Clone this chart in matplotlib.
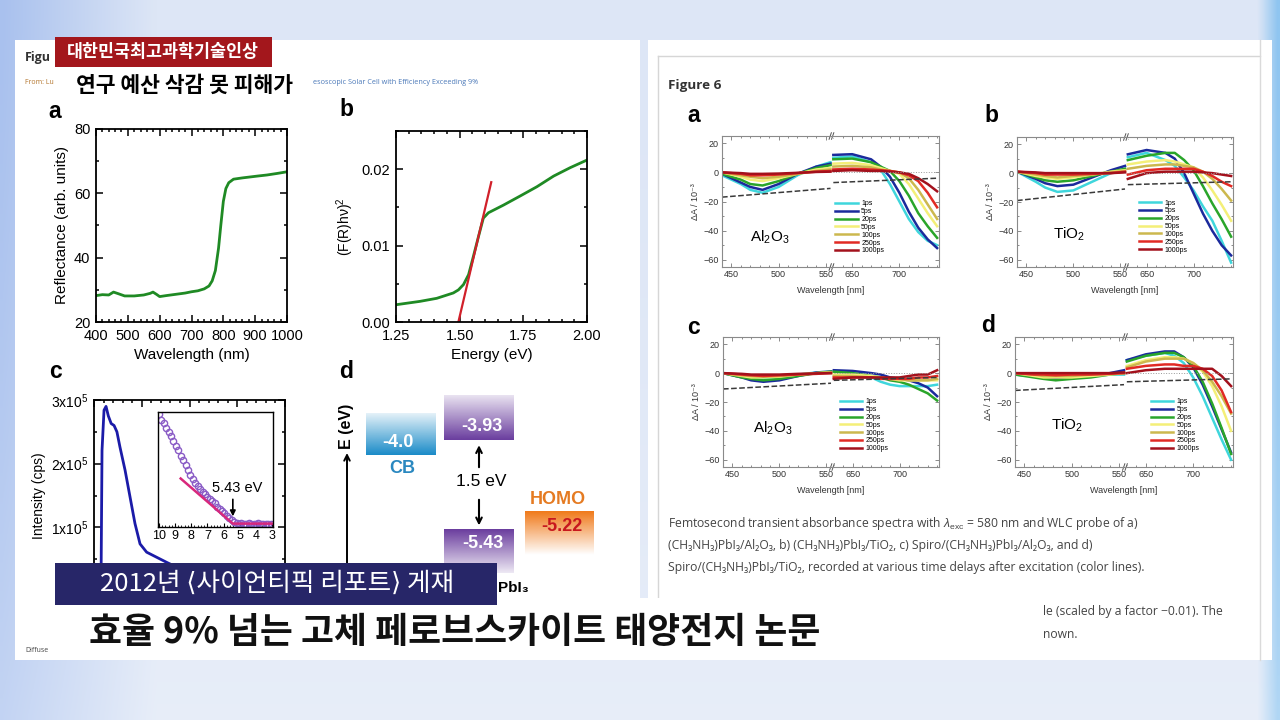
import numpy as np
import matplotlib
matplotlib.use("Agg")
import matplotlib.pyplot as plt
from matplotlib.patches import Rectangle
from matplotlib.colors import to_rgb
from matplotlib.ticker import MultipleLocator, FixedLocator, NullFormatter

plt.rcParams['font.family'] = ['Liberation Sans', 'DejaVu Sans']
plt.rcParams['mathtext.fontset'] = 'custom'
plt.rcParams['mathtext.rm'] = 'Liberation Sans'
plt.rcParams['mathtext.it'] = 'Liberation Sans:italic'
plt.rcParams['mathtext.bf'] = 'Liberation Sans:bold'

KR = ['Noto Sans CJK KR', 'DejaVu Sans']
CAP = ['Open Sans', 'DejaVu Sans']

# ---- left figure, panel a : diffuse reflectance
refl_wl = [400, 420, 440, 455, 470, 490, 520, 550, 570, 579, 590, 600, 620, 650, 680,
           700, 720, 740, 755, 765, 775, 785, 792, 800, 808, 817, 832, 860, 885, 910,
           937, 970, 1000]
refl_val = [28.2, 28.5, 28.4, 29.3, 28.8, 28.1, 28.1, 28.4, 28.9, 29.3, 28.6, 27.9, 28.2,
            28.6, 29.0, 29.4, 29.7, 30.3, 31.2, 32.8, 36.0, 43.0, 50.0, 57.5, 61.5, 63.3,
            64.4, 64.8, 65.1, 65.4, 65.7, 66.2, 66.7]

# ---- panel b : Tauc plot
tauc_e = [1.25, 1.344, 1.41, 1.475, 1.495, 1.515, 1.535, 1.554, 1.574, 1.593, 1.613,
          1.672, 1.738, 1.803, 1.869, 1.934, 2.0]
tauc_val = [0.00226, 0.0027, 0.0031, 0.0038, 0.0042, 0.0049, 0.0062, 0.0086, 0.0112,
            0.0136, 0.0143, 0.0153, 0.0165, 0.0177, 0.0191, 0.0202, 0.0212]
tauc_fit_e = [1.495, 1.624]
tauc_fit_val = [0.0, 0.0183]

# ---- panel c : UPS spectrum and inset
ups_x = [0.73, 0.84, 1.05, 1.26, 1.5, 1.8, 2.1, 2.4, 2.72, 3.25, 3.77, 4.29, 4.82,
         5.51, 6.56, 7.61, 9.0, 11.0, 14.0, 18.0, 20.0]
ups_cps = [0, 2.21e5, 2.84e5, 2.9e5, 2.75e5, 2.63e5, 2.6e5, 2.5e5, 2.26e5, 1.9e5,
           1.48e5, 1.06e5, 0.74e5, 0.61e5, 0.53e5, 0.45e5, 0.35e5, 0.25e5, 0.15e5,
           0.08e5, 0.05e5]
inset_e = [10.0, 9.85, 9.7, 9.55, 9.4, 9.25, 9.1, 8.95, 8.8, 8.65, 8.5, 8.35, 8.2,
           8.05, 7.9, 7.75, 7.6, 7.45, 7.3, 7.15, 7.0, 6.85, 6.7, 6.55, 6.4, 6.25, 6.1,
           5.95, 5.8, 5.65, 5.5, 5.35, 5.2, 5.05, 4.9, 4.75, 4.6, 4.45, 4.3, 4.15, 4.0,
           3.85, 3.7, 3.55, 3.4, 3.25, 3.1]
inset_val = [0.98, 0.93, 0.90, 0.86, 0.82, 0.79, 0.74, 0.70, 0.66, 0.61, 0.57, 0.53,
             0.49, 0.44, 0.41, 0.37, 0.34, 0.32, 0.29, 0.27, 0.25, 0.23, 0.21, 0.19,
             0.16, 0.14, 0.12, 0.10, 0.08, 0.06, 0.04, 0.02, 0.015, 0.01, 0.012, 0.01,
             0.01, 0.012, 0.01, 0.01, 0.01, 0.012, 0.01, 0.01, 0.01, 0.01, 0.01]
onset_e = [8.65, 5.43, 3.0]
onset_val = [0.41, 0.01, 0.01]
onset = 5.43

# ---- panel d : energy levels (eV)
levels = [-4.0, -3.93, -5.43, -5.22]
level_text = ['-4.0', '-3.93', '-5.43', '-5.22']

# ---- Figure 6 : transient absorbance
delays = ['1ps', '5ps', '20ps', '50ps', '100ps', '250ps', '1000ps']
delay_colors = ['#3fd6dc', '#1b2a9c', '#2aa52a', '#f4ef78', '#ccb84e', '#e12a24', '#a3111c']
wl_vis = [440, 460, 470, 483, 500, 520, 540, 555]
wl_nir = [630, 650, 670, 680, 690, 700, 710, 720, 730, 740]
dash_vis = [440, 555]
dash_nir = [630, 740]

a_vis = [[-2, -8, -12, -14, -10, -2, 4, 7],
         [-1, -7, -10, -12, -8, -1, 4, 6],
         [-1, -5, -8, -9, -6, -1, 3, 5],
         [0, -3, -5, -6, -4, -1, 2, 3],
         [0, -2, -3, -4, -3, -1, 1, 2],
         [0, -1, -2, -2, -1.5, -0.5, 0.5, 1],
         [0, -0.5, -1, -1, -0.8, -0.3, 0.3, 0.5]]
a_nir = [[10, 11, 7, 2, -8, -20, -32, -41, -47, -50],
         [12, 12.5, 9, 4, -3, -14, -27, -38, -46, -52],
         [9, 9.5, 7, 4, 1, -6, -16, -28, -37, -45],
         [6, 6.5, 5, 3, 1, -1, -8, -18, -28, -37],
         [4, 4.5, 3.5, 2, 1, 0, -4, -12, -22, -32],
         [2, 2.5, 2, 1.5, 1, 0, -2, -6, -14, -24],
         [1, 1.5, 1, 1, 0.5, 0, -1, -4, -8, -13]]
a_dash_vis = [-17, -11]
a_dash_nir = [-7, -4]

b_vis = [[1, -6, -10, -13, -12, -6, 0, 3],
         [1, -4, -7, -9, -8, -3, 2, 5],
         [1, -3, -5, -6, -5, -2, 1, 3],
         [1, -2, -3, -4, -3, -1, 1, 2],
         [1, -1, -2, -3, -2, -1, 0.5, 1.5],
         [1, 0, -1, -1, -1, -0.5, 0, 1],
         [1, 0.5, 0, 0, 0, 0, 0, 0.5]]
b_nir = [[11, 14, 9, 5, -3, -12, -23, -33, -47, -62],
         [13, 16, 14, 10, 0, -14, -28, -40, -50, -57],
         [9, 12, 14, 14, 9, 2, -9, -21, -32, -44],
         [6, 8, 9, 8, 6, 4, -3, -12, -22, -33],
         [3, 5, 6, 6, 5, 4, 1, -4, -11, -19],
         [-1, 2, 3, 3, 3, 3, 1, -2, -6, -9],
         [-4, 0, 1, 1, 1, 1, 0.5, 0, -1, -2]]
b_dash_vis = [-19, -11]
b_dash_nir = [-8, -6]

c_vis = [[0, -2, -3, -4, -3, -1, 0.5, 1],
         [0, -3, -5, -6, -5, -2, 0.5, 1],
         [0, -3, -4, -5, -4, -2, 0, 1],
         [0, -2, -3, -3, -2.5, -1, 0, 0.5],
         [0, -1.5, -2, -2.5, -2, -1, 0, 0.5],
         [0, -1, -1.5, -2, -1.5, -1, -0.5, 0],
         [0, -0.5, -1, -1, -1, -0.5, -0.2, 0]]
c_nir = [[1, 0, -3, -6, -8, -9, -9, -9, -9, -8],
         [2, 1.5, 0, -1, -3, -4, -5, -7, -10, -16],
         [1, 0, -2, -3, -5, -6, -8, -11, -14, -19],
         [-1, -1, -2, -3, -4, -5, -5, -5, -5, -5],
         [-2, -2, -3, -3, -4, -4, -5, -5, -5, -4],
         [-3, -3, -3, -4, -4, -4, -4, -3, -3, -2],
         [-4, -3, -3, -3, -3, -3, -2, -1, -1, 2]]
c_dash_vis = [-11, -7]
c_dash_nir = [-5, -3]

d_vis = [[-1, -2, -3, -4, -3, -2, -1, -1],
         [-1, -2, -3, -4, -3, -2, 0, 2],
         [-1, -3, -4, -5, -4, -3, -1, 0],
         [0, -2, -3, -3, -3, -2, -1, 0],
         [0, -1, -2, -2, -2, -1, -0.5, 0],
         [0, -1, -1, -1.5, -1, -1, -0.5, 0],
         [0, 0, 0, 0, 0, 0, 0, 0.5]]
d_nir = [[9, 12, 14, 12, 7, -3, -16, -31, -46, -60],
         [9, 13, 15, 15, 11, 4, -8, -23, -39, -55],
         [8, 12, 14, 14, 11, 5, -6, -21, -38, -56],
         [5, 9, 11, 11, 10, 7, 1, -9, -23, -40],
         [4, 8, 10, 10, 10, 7, 2, -6, -16, -28],
         [3, 5, 6, 6, 5, 5, 3, -2, -12, -27],
         [0, 2, 3, 3, 3, 3, 3, 3, -2, -9]]
d_dash_vis = [-12, -8]
d_dash_nir = [-6, -4]

W, H = 1280, 720
GAP = 72  # nm removed by the axis break (556 -> 628)


def box(x0, y0, x1, y1):
    return [x0 / W, 1 - y1 / H, (x1 - x0) / W, (y1 - y0) / H]


def brk(w):
    w = np.asarray(w, float)
    return np.where(w > 600, w - GAP, w)


fig = plt.figure(figsize=(12.8, 7.2), dpi=100)

# background, pages
bg = fig.add_axes([0, 0, 1, 1], zorder=0)
bg.axis('off')
gx = np.linspace(0, 1, 256)
left_c, mid_c, right_c = to_rgb('#a9c1ee'), to_rgb('#dde6f6'), to_rgb('#8fc5f0')
horiz = np.stack([np.interp(gx, [0, 0.12, 0.6, 0.985, 1.0],
                            [left_c[k], mid_c[k], mid_c[k], mid_c[k], right_c[k]])
                  for k in range(3)], axis=-1)
t = np.linspace(0, 0.45, 100)[:, None, None] ** 1.5
img = horiz[None, :, :] * (1 - t) + t
bg.imshow(img, extent=[0, W, H, 0], aspect='auto', interpolation='bilinear')
bg.add_patch(Rectangle((15, 40), 625, 620, fc='white', ec='none'))
bg.add_patch(Rectangle((648, 40), 624, 620, fc='white', ec='none'))
bg.plot([658, 658], [56, 606], color='#d6d6d6', lw=1)
bg.plot([658, 1260], [56, 56], color='#d6d6d6', lw=1)
bg.plot([1260, 1260], [40, 660], color='#dadada', lw=1)
bg.set_xlim(0, W)
bg.set_ylim(H, 0)

bg.text(25, 58, 'Figu', fontsize=9, fontweight='bold', color='#333333', va='center', family=CAP)
bg.text(25, 83, 'From: Lu', fontsize=5, color='#b4762e', va='center', family=CAP)
bg.text(313, 83, 'esoscopic Solar Cell with Efficiency Exceeding 9%', fontsize=5.2,
        color='#4a78b8', va='center', family=CAP)
bg.text(25, 651, 'Diffuse', fontsize=5, color='#444444', va='center', family=CAP)

for lab, x, y in [('a', 55, 111), ('b', 346, 109), ('c', 56, 372), ('d', 346, 372),
                  ('a', 694, 115), ('b', 991, 115), ('c', 694, 327), ('d', 988, 326)]:
    bg.text(x, y, lab, fontsize=16.5, fontweight='bold', ha='center', va='center')

bg.text(668, 86, 'Figure 6', fontsize=9.7, fontweight='bold', color='#333333', va='center', family=CAP)
cap_lines = ['Femtosecond transient absorbance spectra with $\\lambda_{\\mathrm{exc}}$ = 580 nm and WLC probe of a)',
             '(CH₃NH₃)PbI₃/Al₂O₃, b) (CH₃NH₃)PbI₃/TiO₂, c) Spiro/(CH₃NH₃)PbI₃/Al₂O₃, and d)',
             'Spiro/(CH₃NH₃)PbI₃/TiO₂, recorded at various time delays after excitation (color lines).']
for i, line in enumerate(cap_lines):
    bg.text(668, 523 + 22.5 * i, line, fontsize=8.7, color='#444444', va='center', family=CAP)
bg.text(1043, 611, 'le (scaled by a factor \u22120.01). The', fontsize=8.7, color='#444444',
        va='center', family=CAP)
bg.text(1043, 634, 'nown.', fontsize=8.7, color='#444444', va='center', family=CAP)


def style_left(ax, size=10.5):
    for s in ax.spines.values():
        s.set_linewidth(1.3)
    ax.tick_params(which='both', direction='in', top=True, right=True, width=1.1, labelsize=size)
    ax.tick_params(which='major', length=5)
    ax.tick_params(which='minor', length=2.5)
    ax.tick_params(axis='x', pad=5)
    ax.tick_params(axis='y', pad=4)


# panel a
ax = fig.add_axes(box(96, 129, 287, 322), zorder=2)
ax.plot(refl_wl, refl_val, color='#1f8a24', lw=2)
ax.set_xlim(400, 1000)
ax.set_ylim(20, 80)
ax.xaxis.set_major_locator(MultipleLocator(100))
ax.xaxis.set_minor_locator(MultipleLocator(20))
ax.yaxis.set_major_locator(MultipleLocator(20))
ax.yaxis.set_minor_locator(MultipleLocator(10))
style_left(ax)
ax.set_xlabel('Wavelength (nm)', fontsize=11, labelpad=4)
ax.set_ylabel('Reflectance (arb. units)', fontsize=11)

# panel b
ax = fig.add_axes(box(396, 131, 587, 322), zorder=2)
ax.plot(tauc_e, tauc_val, color='#1f8a24', lw=2)
ax.plot(tauc_fit_e, tauc_fit_val, color='#d1202a', lw=1.6)
ax.set_xlim(1.25, 2.0)
ax.set_ylim(0, 0.025)
ax.set_xticks([1.25, 1.5, 1.75, 2.0])
ax.set_xticklabels(['1.25', '1.50', '1.75', '2.00'])
ax.set_yticks([0, 0.01, 0.02])
ax.set_yticklabels(['0.00', '0.01', '0.02'])
ax.xaxis.set_minor_locator(MultipleLocator(0.05))
ax.yaxis.set_minor_locator(MultipleLocator(0.005))
style_left(ax)
ax.set_xlabel('Energy (eV)', fontsize=11, labelpad=4)
ax.set_ylabel('(F(R)h\u03bd)$^2$', fontsize=10)

# panel c
ax = fig.add_axes(box(94, 400, 285, 591), zorder=2)
ax.plot(ups_x, ups_cps, color='#1b1ba8', lw=2)
ax.set_xlim(0, 20)
ax.set_ylim(0, 3e5)
ax.set_yticks([0, 1e5, 2e5, 3e5])
ax.set_yticklabels(['0', '$1\\mathrm{x}10^5$', '$2\\mathrm{x}10^5$', '$3\\mathrm{x}10^5$'])
ax.xaxis.set_major_locator(MultipleLocator(5))
ax.xaxis.set_minor_locator(MultipleLocator(1))
ax.xaxis.set_major_formatter(NullFormatter())
ax.yaxis.set_minor_locator(MultipleLocator(0.5e5))
style_left(ax, 10)
ax.set_ylabel('Intensity (cps)', fontsize=10)

ins = fig.add_axes(box(158, 412, 273, 527), zorder=3)
ins.plot(inset_e, inset_val, 'o', mfc='none', mec='#8a5cc6', ms=4.5, mew=1.0)
ins.plot(onset_e, onset_val, color='#d8287c', lw=1.8)
ins.set_xlim(10.05, 2.95)
ins.set_ylim(-0.02, 1.0)
ins.set_xticks(range(3, 11))
ins.xaxis.set_minor_locator(MultipleLocator(0.2))
ins.set_yticks([])
for s in ins.spines.values():
    s.set_linewidth(1.0)
ins.tick_params(which='both', direction='in', labelsize=9, pad=2)
ins.tick_params(which='major', length=3)
ins.tick_params(which='minor', length=1.5)
ins.annotate('', xy=(onset, 0.05), xytext=(onset, 0.25),
             arrowprops=dict(arrowstyle='-|>', color='black', lw=1.2, mutation_scale=8))
ins.text(5.16, 0.33, '%.2f eV' % onset, fontsize=10.5, ha='center', va='center')

# panel d : energy diagram
ax = fig.add_axes(box(340, 380, 600, 600), zorder=2)
ax.axis('off')
E_TOP, E_BOT = -2.93, -6.597


def grad_box(ax, x0, x1, e0, e1, color, a_bottom, a_top):
    arr = np.zeros((64, 1, 4))
    arr[:, 0, :3] = to_rgb(color)
    arr[:, 0, 3] = np.linspace(a_bottom, a_top, 64)
    ax.imshow(arr, extent=[x0, x1, e0, e1], origin='lower', aspect='auto',
              interpolation='bilinear')


grad_box(ax, 26, 96, levels[0] - 0.18, levels[0] + 0.52, '#1a8bc8', 1.0, 0.12)
grad_box(ax, 104, 174, levels[1], levels[1] + 0.75, '#6a3d9e', 1.0, 0.15)
grad_box(ax, 104, 174, levels[2] - 0.72, levels[2], '#6a3d9e', 0.12, 1.0)
grad_box(ax, 185, 254, levels[3] - 0.63, levels[3] + 0.09, '#f07a1a', 0.0, 1.0)
ax.set_xlim(0, 260)
ax.set_ylim(E_BOT, E_TOP)
ax.text(58, -3.98, level_text[0], color='white', fontsize=13, fontweight='bold', ha='center', va='center')
ax.text(62, -4.40, 'CB', color='#2a88c0', fontsize=13, fontweight='bold', ha='center', va='center')
ax.text(142, -3.71, level_text[1], color='white', fontsize=13, fontweight='bold', ha='center', va='center')
ax.text(143, -5.65, level_text[2], color='white', fontsize=13, fontweight='bold', ha='center', va='center')
ax.text(218, -4.93, 'HOMO', color='#e57b22', fontsize=13, fontweight='bold', ha='center', va='center')
ax.text(222, -5.38, level_text[3], color='#c8181e', fontsize=13, fontweight='bold', ha='center', va='center')
ax.text(141, -4.63, '%.1f eV' % (levels[1] - levels[2]), fontsize=12.5, ha='center', va='center')
ax.annotate('', xy=(139, levels[1] - 0.04), xytext=(139, -4.43),
            arrowprops=dict(arrowstyle='->', lw=1.5, color='black'))
ax.annotate('', xy=(139, levels[2] + 0.03), xytext=(139, -4.88),
            arrowprops=dict(arrowstyle='->', lw=1.5, color='black'))
ax.annotate('', xy=(7, -4.10), xytext=(7, E_BOT),
            arrowprops=dict(arrowstyle='->', lw=1.4, color='black'))
ax.text(7, -3.70, 'E (eV)', rotation=90, fontsize=11.5, fontweight='bold', ha='center', va='center')
# the start of the material name sits under the caption bar; only "PbI3" shows
ax.text(158, -6.40, 'PbI₃', fontsize=11, fontweight='bold', ha='left', va='center')


# Figure 6 panels
def draw_ta(rect, vis, nir, dvis, dnir, material, leg_xy, mat_xy):
    ax = fig.add_axes(box(*rect), zorder=2)
    for i in range(len(delays)):
        ax.plot(wl_vis, vis[i], color=delay_colors[i], lw=1.8, label=delays[i])
        ax.plot(brk(wl_nir), nir[i], color=delay_colors[i], lw=1.8)
    ax.plot(dash_vis, dvis, '--', color='#3a3a3a', lw=1.1)
    ax.plot(brk(dash_nir), dnir, '--', color='#3a3a3a', lw=1.1)
    ax.plot(brk(dash_nir), [0, 0], ':', color='#999999', lw=0.7)
    ax.set_xlim(440, 670)
    ax.set_ylim(-65, 25)
    ax.set_xticks(brk([450, 500, 550, 650, 700]))
    ax.set_xticklabels(['450', '500', '550', '650', '700'])
    minor = np.concatenate([np.arange(440, 556, 10), np.arange(630, 741, 10)])
    ax.xaxis.set_minor_locator(FixedLocator(brk(minor)))
    ax.set_yticks([-60, -40, -20, 0, 20])
    ax.yaxis.set_minor_locator(MultipleLocator(10))
    for s in ax.spines.values():
        s.set_color('#8a8a8a')
        s.set_linewidth(0.8)
    ax.tick_params(which='both', direction='in', top=True, right=True, color='#777777',
                   labelsize=6.5, labelcolor='#333333', width=0.6, pad=2.5)
    ax.tick_params(which='major', length=3)
    ax.tick_params(which='minor', length=1.5)
    tr = ax.get_xaxis_transform()
    for yb in (0.0, 1.0):
        ax.plot([555.5, 558.5], [yb, yb], color='white', lw=2, transform=tr, clip_on=False)
        for dx in (-1.3, 1.3):
            ax.plot([556 + dx - 1.2, 556 + dx + 1.2], [yb - 0.025, yb + 0.025], color='#555555',
                    lw=0.7, transform=tr, clip_on=False)
    ax.set_xlabel('Wavelength [nm]', fontsize=6.5, color='#333333', labelpad=5)
    ax.set_ylabel('\u0394A / 10\u207b\u00b3', fontsize=6.5, color='#333333', labelpad=2)
    ax.legend(loc='upper left', bbox_to_anchor=leg_xy, fontsize=5, handlelength=3.2,
              handletextpad=0.5, labelspacing=0.12, frameon=False, borderaxespad=0)
    ax.text(mat_xy[0], mat_xy[1], material, transform=ax.transAxes, fontsize=11,
            ha='center', va='center', family=['Liberation Sans', 'DejaVu Sans'])
    return ax


draw_ta((722, 136, 939, 267), a_vis, a_nir, a_dash_vis, a_dash_nir, 'Al$_2$O$_3$', (0.51, 0.53), (0.22, 0.23))
draw_ta((1017, 137, 1233, 267), b_vis, b_nir, b_dash_vis, b_dash_nir, 'TiO$_2$', (0.55, 0.54), (0.24, 0.25))
draw_ta((723, 337, 939, 467), c_vis, c_nir, c_dash_vis, c_dash_nir, 'Al$_2$O$_3$', (0.53, 0.55), (0.23, 0.30))
draw_ta((1015, 337, 1233, 467), d_vis, d_nir, d_dash_vis, d_dash_nir, 'TiO$_2$', (0.61, 0.55), (0.24, 0.32))

# broadcast overlay
ov = fig.add_axes([0, 0, 1, 1], zorder=10)
ov.patch.set_alpha(0)
ov.set_xlim(0, W)
ov.set_ylim(H, 0)
ov.axis('off')
ov.add_patch(Rectangle((55, 37), 217, 30, fc='#a3171c', ec='none'))
ov.text(163, 52, '대한민국최고과학기술인상', color='white', fontsize=12.5, fontweight='bold',
        ha='center', va='center', family=KR)
ov.text(184, 85, '연구 예산 삭감 못 피해가', color='black', fontsize=15.5, fontweight='bold',
        ha='center', va='center', family=KR)
ov.add_patch(Rectangle((55, 563), 442, 42, fc='#272668', ec='none'))
ov.text(277, 584, '2012년 \u27e8사이언티픽 리포트\u27e9 게재', color='white', fontsize=18.5,
        ha='center', va='center', family=KR)
ov.add_patch(Rectangle((640, 598), 400, 62, fc='white', ec='none'))
ov.text(455, 633, '효율 9% 넘는 고체 페로브스카이트 태양전지 논문', color='#111111', fontsize=25.8,
        fontweight='bold', ha='center', va='center', family=KR)

fig.savefig('out.png', dpi=100)
